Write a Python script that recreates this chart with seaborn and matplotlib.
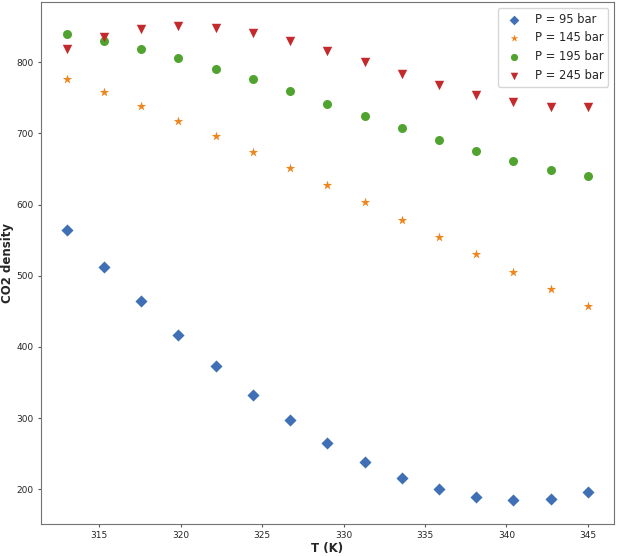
import numpy as np
import pandas as pd
import matplotlib
matplotlib.use('Agg')
import matplotlib.pyplot as plt
import seaborn as sns

# temperatures (K)
temps = [313.0, 315.29, 317.57, 319.86, 322.14, 324.43, 326.71, 329.0,
         331.29, 333.57, 335.86, 338.14, 340.43, 342.71, 345.0]

# CO2 density at each pressure
rho_95 = [565, 513, 464, 417, 373, 333, 297, 265, 238, 216, 200, 189, 185, 187, 197]
rho_145 = [777, 758, 738, 718, 696, 674, 651, 628, 604, 579, 555, 530, 506, 481, 458]
rho_195 = [840, 830, 819, 806, 791, 776, 759, 742, 725, 708, 691, 675, 661, 649, 640]
rho_245 = [818, 836, 846, 851, 848, 841, 830, 816, 800, 784, 768, 754, 744, 737, 737]

labels = ['P = 95 bar', 'P = 145 bar', 'P = 195 bar', 'P = 245 bar']

df = pd.DataFrame({
    'T': temps * 4,
    'rho': rho_95 + rho_145 + rho_195 + rho_245,
    'P': [lab for lab in labels for _ in temps],
})

sns.set_style('ticks')
plt.rcParams['axes.edgecolor'] = '0.45'
plt.rcParams['xtick.color'] = '0.35'
plt.rcParams['ytick.color'] = '0.35'
plt.rcParams['xtick.labelcolor'] = '0.15'
plt.rcParams['ytick.labelcolor'] = '0.15'

colors = {labels[0]: '#3f70b5', labels[1]: '#ee8620', labels[2]: '#4fa32e', labels[3]: '#c42a2c'}
markers = {labels[0]: 'D', labels[1]: '*', labels[2]: 'o', labels[3]: 'v'}
sizes = {labels[0]: 38, labels[1]: 50, labels[2]: 42, labels[3]: 46}

fig = plt.figure(figsize=(6.17, 5.56), dpi=100)
ax = fig.add_axes([0.066, 0.058, 0.929, 0.938])
for lab in labels:
    sub = df[df['P'] == lab]
    sns.scatterplot(data=sub, x='T', y='rho', color=colors[lab], marker=markers[lab],
                    s=sizes[lab], linewidth=0, label=lab, ax=ax)

ax.set_xlabel('T (K)', fontsize=8.5, fontweight='bold', labelpad=1.5)
ax.set_ylabel('CO2 density', fontsize=8.5, fontweight='bold', labelpad=1.5)
ax.tick_params(labelsize=6.5, length=2.5, pad=2.5)
ax.legend(loc='upper right', fontsize=8.3, frameon=True, markerscale=0.8)

fig.savefig('out.png', dpi=100)
